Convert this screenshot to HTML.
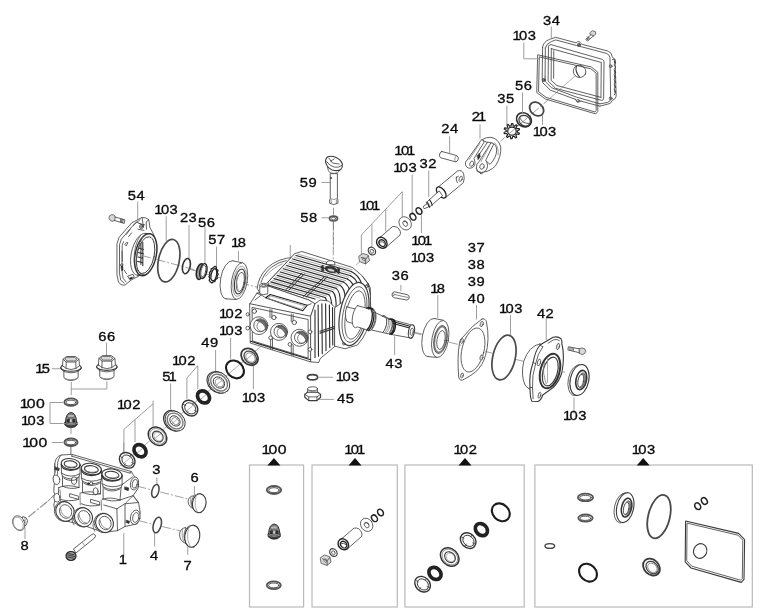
<!DOCTYPE html>
<html><head><meta charset="utf-8"><title>Pump exploded view</title>
<style>
html,body{margin:0;padding:0;background:#fff;}
svg{display:block;will-change:transform;transform:translateZ(0);}
body{-webkit-font-smoothing:antialiased;}
.lbl text{font-family:"Liberation Sans",sans-serif;font-size:13.4px;fill:#0a0a0a;stroke:#0a0a0a;stroke-width:0.32px;text-anchor:middle;letter-spacing:0.45px;}
.box rect{fill:none;stroke:#b9b9b9;stroke-width:1.2;}
.tri path{fill:#111;}
.ln{fill:none;stroke:#3a3a3a;stroke-width:0.8;stroke-linejoin:round;stroke-linecap:round;}
.lnw{fill:#fff;stroke:#3a3a3a;stroke-width:0.8;stroke-linejoin:round;stroke-linecap:round;}
.lt{fill:none;stroke:#777;stroke-width:0.6;stroke-linejoin:round;stroke-linecap:round;}
.ltw{fill:#fff;stroke:#777;stroke-width:0.6;stroke-linejoin:round;}
.ld{fill:none;stroke:#939393;stroke-width:0.9;}
.ax{fill:none;stroke:#777;stroke-width:0.7;stroke-dasharray:9 2 2 2;}
.blk{fill:none;stroke:#1a1a1a;stroke-width:2;}
.blk3{fill:none;stroke:#1a1a1a;stroke-width:3;}
.g1{fill:#d8d8d8;stroke:#3a3a3a;stroke-width:0.7;}
.g2{fill:#9a9a9a;stroke:#3a3a3a;stroke-width:0.7;}
.dk{fill:#333;stroke:#222;stroke-width:0.6;}
.ln,.lnw,.lt,.ltw,.ld,.ax,.blk,.blk3,.g1,.g2,.dk,.ln *,.lt *{vector-effect:non-scaling-stroke;}
</style></head>
<body>
<svg width="761" height="616" viewBox="0 0 761 616">
<rect width="761" height="616" fill="#fff"/>
<g class="box"><rect x="249.5" y="465" width="54.10000000000002" height="142"/><rect x="312" y="465" width="85.30000000000001" height="142"/><rect x="404.9" y="465" width="119.30000000000007" height="142"/><rect x="534.9" y="465" width="217.39999999999998" height="142"/></g><g class="tri"><path d="M267.4 465.4 L273.9 458 L280.4 465.4Z"/><path d="M348.5 465.4 L355 458 L361.5 465.4Z"/><path d="M458.5 465.4 L465 458 L471.5 465.4Z"/><path d="M636.7 465.4 L643.2 458 L649.7 465.4Z"/></g>
<!-- 10_cover34.svg -->
<g transform="translate(535 30) scale(0.13804)">
<!-- cover 34 : region 535,30 90x85 @7.244 -->
<g class="ln">
<!-- outer flange -->
<path d="M55 125 Q60 85 105 68 L150 53 L298 93 Q318 70 338 103 L530 153 Q558 165 560 195 L580 215 L588 480 Q585 500 560 510 L545 532 L470 552" />
<path d="M55 125 L52 360 Q50 385 75 400 L112 436 L292 502 M332 515 L470 552"/>
<path d="M73 340 L74 372 L120 418 L300 486 L470 535"/>
<!-- flange second line (thickness) -->
<path d="M75 130 Q82 98 118 84 L150 72 L300 112 L520 170 Q540 180 543 200 L548 500 Q545 520 525 525 L470 535"/>
<path d="M75 130 L73 340"/>
<!-- inner opening -->
<path d="M98 118 Q100 104 116 106 L488 213 Q500 218 500 232 L497 498 Q495 512 480 509 L150 423 L97 372 Z"/>
<path d="M118 135 L117 365 L158 402 L478 488"/>
<path d="M118 135 L480 235 L478 488"/>
<path d="M136 150 L135 350"/>
<!-- hole -->
<ellipse cx="323" cy="300" rx="46" ry="44" transform="rotate(25 323 300)"/>
<path d="M300 262 Q288 300 322 340" style="stroke-width:1.1"/>
<!-- lugs -->
<circle cx="318" cy="108" r="11"/><circle cx="318" cy="108" r="5"/>
<circle cx="64" cy="362" r="11"/><circle cx="64" cy="362" r="5"/>
<circle cx="311" cy="513" r="10"/>
<circle cx="548" cy="262" r="10"/>
<circle cx="548" cy="495" r="10"/>
<path d="M290 500 Q310 535 332 515"/>
<!-- fins right -->
<path d="M560 215 L575 210 L585 240 L572 250 L585 275 L572 285 L585 310 L572 320 L585 345 L572 355 L585 380 L572 390 L585 415 L572 425 L585 450 L575 470"/>
</g>
<g class="dk"><path d="M572 215 l10 20 l-8 8z M574 290 l10 18 l-8 8z M574 325 l10 18 l-8 8z M574 360 l10 18 l-8 8z M574 395 l10 18 l-8 8z M574 430 l10 18 l-8 8z"/></g>
<!-- bolt -->
<g class="ln">
<path d="M398 20 L415 5 L438 12 L440 30 L425 42 L405 35 Z" class="g1"/>
<path d="M405 35 L368 68 L380 80 L425 42" />
<path d="M372 62 l12 10 M378 56 l12 10 M384 50 l12 10"/>
</g>
<!-- gasket 103 -->
<g class="ln">
<path d="M22 180 L408 268 L455 306 L455 590 L440 608 L75 500 L15 455 Z"/>
<path d="M34 195 L404 281 L443 312 L443 583 L434 594 L80 488 L28 449 Z"/>
</g>
</g>

<!-- 12_conrod.svg -->
<g transform="translate(455 95) scale(0.13793)">
<!-- region 455,95 100x85 @7.25 -->
<path class="lt" d="M870 -138 L690 22"/><path class="ax" d="M690 22 L330 335"/>
<!-- ring 103 -->
<ellipse class="ln" style="stroke-width:1.8;stroke:#444" cx="592" cy="102" rx="56" ry="44" transform="rotate(42 592 102)"/>
<!-- ring 56 -->
<g class="ln">
<ellipse style="stroke-width:1.6;stroke:#2a2a2a" cx="500" cy="180" rx="57" ry="48" transform="rotate(35 500 180)"/>
<ellipse style="stroke-width:1.2" cx="505" cy="186" rx="44" ry="36" transform="rotate(35 505 186)"/>
<path d="M470 165 Q490 215 545 205"/>
</g>
<!-- star 35 -->
<g class="ln" style="stroke-width:1.2;stroke:#222">
<path d="M449 244 L466 243 L468 252 L453 259 L452 266 L452 269 L467 277 L463 286 L447 283 L442 288 L441 290 L447 306 L439 311 L428 299 L421 300 L418 301 L414 317 L404 317 L402 301 L396 298 L393 297 L380 308 L373 302 L381 288 L377 282 L375 280 L358 281 L356 272 L371 265 L372 258 L372 255 L357 247 L361 238 L377 241 L382 236 L383 234 L377 218 L385 213 L396 225 L403 224 L406 223 L410 207 L420 207 L422 223 L428 226 L431 227 L444 216 L451 222 L443 236 L447 242Z"/>
<ellipse cx="413" cy="262" rx="31" ry="29"/>
</g>
<!-- conrod 21 -->
</g>
<g transform="translate(425 100) scale(0.125)">
<g class="ln">
<!-- big end ring -->
<path class="lnw" d="M455 318 Q490 296 525 298 Q585 305 606 375 Q612 450 565 525 L540 548 L500 570 L440 582 Q410 578 410 545 L480 480 L545 350 Q520 335 500 338 Z"/>
<path d="M545 350 Q570 352 574 400 Q572 460 520 515 L480 480" />
<path d="M560 345 Q592 380 585 440" style="stroke:#888"/>
<!-- right arm -->
<path class="lnw" d="M530 343 Q548 338 548 355 L486 482 Q500 500 500 530 Q495 575 452 580 Q415 578 410 545 Q410 510 432 492 Z"/>
<!-- left arm -->
<path class="lnw" d="M455 318 Q475 320 472 338 L392 468 Q402 490 400 515 Q385 550 350 545 Q318 535 324 500 Z"/>
<path d="M440 345 L352 478 M515 370 L448 492" style="stroke:#888"/>
<ellipse cx="374" cy="510" rx="15" ry="22" transform="rotate(20 374 510)"/>
<ellipse cx="456" cy="532" rx="17" ry="23" transform="rotate(20 456 532)"/>
<path class="dk" d="M418 445 l18 -20 l6 28 l-16 22z"/>
<path d="M436 432 L500 338" />
<path d="M440 582 l6 10 l12 -4"/>
</g>
</g>

<!-- 14_piston.svg -->
<g transform="translate(350 160) scale(0.16234)">
<!-- region 350,160 120x100 @6.16 -->
<path class="lt" d="M62 625 L40 645" style="stroke-dasharray:none"/>
<!-- 101 bracket -->
<path class="ld" d="M322 195 L70 462 L70 585 M135 395 L135 535 M220 305 L220 440 M322 195 L322 350"/>
<path class="ld" d="M383 90 L383 335 M485 65 L485 228 M440 340 L440 450"/>
<!-- piston 32 -->
<g class="ln">
<path class="lnw" d="M542 168 L662 68 Q690 58 700 85 Q708 115 698 140 L588 232 Z"/>
<ellipse class="lnw" style="stroke-width:1.3;stroke:#222" cx="562" cy="200" rx="22" ry="40" transform="rotate(-38 562 200)"/>
<ellipse cx="682" cy="116" rx="9" ry="17" transform="rotate(20 682 116)"/>
<path d="M655 105 Q650 125 662 140 M668 100 l-14 8"/>
<path class="lnw" d="M548 192 L470 262 L490 290 L568 222 Z"/>
<path class="lnw" d="M478 268 L455 282 Q447 292 456 300 L482 290Z"/>
<path style="stroke-width:1.2;stroke:#333" d="M474 260 Q484 268 490 290 M490 246 Q500 256 506 278"/>
</g>
<!-- small rings -->
<g class="ln" style="stroke-width:1.5;stroke:#222">
<ellipse cx="425" cy="314" rx="16" ry="22" transform="rotate(-35 425 314)"/>
<ellipse cx="388" cy="350" rx="16" ry="22" transform="rotate(-35 388 350)"/>
</g>
<!-- washer -->
<g class="ln">
<ellipse class="lnw" cx="340" cy="390" rx="36" ry="43" transform="rotate(-35 340 390)"/>
<ellipse cx="340" cy="392" rx="13" ry="18" transform="rotate(-35 340 392)"/>
<path d="M330 378 Q345 372 352 385"/>
</g>
<!-- sleeve -->
<g class="ln">
<path class="lnw" d="M172 488 L262 410 Q295 405 310 440 Q312 455 308 462 L222 538 Z"/>
<ellipse class="lnw" style="stroke-width:1.4;stroke:#222" cx="196" cy="510" rx="30" ry="36" transform="rotate(-38 196 510)"/>
<ellipse style="stroke-width:1.3;stroke:#222" cx="198" cy="512" rx="18" ry="22" transform="rotate(-38 198 512)"/>
<path d="M185 505 Q200 498 212 512"/>
</g>
<!-- small washer -->
<g class="ln">
<ellipse class="lnw" style="stroke-width:1.1" cx="135" cy="561" rx="21" ry="26" transform="rotate(-38 135 561)"/>
<ellipse cx="135" cy="562" rx="10" ry="13" transform="rotate(-38 135 562)"/>
</g>
<!-- nut -->
<g class="ln" transform="translate(88 608) scale(1.35) translate(-86 -604)">
<path class="g1" d="M62 592 L80 580 L104 588 L110 612 L92 628 L66 618 Z"/>
<path d="M72 598 L92 606 L104 592 M92 606 L92 626"/>
<ellipse cx="84" cy="606" rx="6" ry="8" transform="rotate(-35 84 606)" style="stroke:#666"/>
</g>
</g>

<!-- 16_pin_leaders.svg -->
<g>
<!-- leaders top right (orig coords) -->
<path class="ld" d="M551.3 26.5 L551.3 38 M523.8 42.5 L523.8 58.8 L538.8 58.8 M522.5 92.5 L522.5 113 M506.9 105.6 L506.9 124.4 M542.5 115 L542.5 125 M480 124.4 L480 138.8 M449.6 136.3 L449.6 153"/>
<g transform="translate(425 100) scale(0.125)">
<g class="ln">
<path class="lnw" d="M135 412 L255 445 Q270 455 265 475 Q258 495 245 495 L125 462 Q112 452 117 432 Q123 412 135 412Z"/>
<path d="M255 445 Q240 450 238 470 Q238 488 245 495" style="stroke:#777"/>
</g>
</g>
</g>

<!-- 20_cover54.svg -->
<g transform="translate(95 200) scale(0.1462)">
<!-- region 95,200 100x90 @6.84 -->
<path class="ld" d="M292 10 L292 135 M487 112 L487 280 M643 170 L643 398"/>
<!-- bolt -->
<g class="ln">
<path class="g1" d="M100 108 Q112 96 128 102 L138 112 L136 140 Q122 150 106 142 L98 130 Z"/>
<path d="M136 116 L205 136 L200 160 L134 140 M185 131 l-4 22 M193 133 l-4 22 M177 129 l-4 22"/>
</g>
<!-- flange -->
<g class="ln">
<path class="lnw" d="M322 120 Q345 115 368 135 L376 190 L400 232 L415 300 L395 440 L300 520 L246 548 L205 582 Q175 585 160 560 L150 510 L150 300 L165 255 L250 158 Z"/>
<path d="M308 135 L262 172 L180 268 L168 305 L167 500 L176 548 L200 568"/>
<path d="M322 120 L330 175 M368 135 L350 150 L352 200"/>
<circle cx="318" cy="182" r="14"/><circle cx="318" cy="182" r="6"/>
<path d="M300 160 L340 170 M295 200 L335 208"/>
<path d="M205 300 Q215 285 225 292 L215 312 Z M175 440 Q185 430 192 440 L186 462 Z M225 520 L260 508 L268 528 L240 540Z"/>
<path d="M230 250 L250 225 M185 350 L186 420 M200 480 L215 505"/>
<path d="M195 285 L186 310 L185 490 L192 535 L212 560 M240 200 L215 235 M262 172 L285 150 L330 175" style="stroke:#444"/>
<path class="dk" d="M180 455 l8 -6 l4 30 l-8 4z M236 535 l16 -8 l4 8 l-16 8z"/>
<!-- boss -->
<ellipse class="lnw" cx="318" cy="372" rx="70" ry="146" transform="rotate(12 318 372)"/>
<path d="M345 228 L372 232 L318 516 L290 512Z" style="fill:#fff;stroke:none"/>
<path d="M345 228 L374 232 M290 514 L318 518"/>
<ellipse class="lnw" style="stroke-width:1.5;stroke:#333" cx="347" cy="374" rx="72" ry="146" transform="rotate(12 347 374)"/>
<ellipse style="stroke-width:1" cx="346" cy="377" rx="59" ry="128" transform="rotate(12 346 377)"/>
<path d="M268 425 Q262 310 312 240 M282 445 Q280 325 326 255" style="stroke:#555"/>
<path d="M302 330 l30 8 M298 360 l34 8 M294 390 l34 8 M292 420 l30 8 M314 300 l0 140 M327 290 l0 160" style="stroke-width:1.1;stroke:#333"/>
<path d="M287 470 Q302 515 337 510"/>
</g>
<path class="ax" d="M322 380 L700 482"/>
<!-- O-ring 103 -->
<ellipse class="ln" style="stroke-width:1.7;stroke:#4a4a4a" cx="505" cy="415" rx="71" ry="148" transform="rotate(12 505 415)"/>
<!-- ring 23 -->
<ellipse class="ln" style="stroke-width:1.6;stroke:#333" cx="625" cy="452" rx="26" ry="53" transform="rotate(12 625 452)"/>
</g>

<!-- 22_bearingL.svg -->
<g transform="translate(180 235) scale(0.1218)">
<!-- region 180,235 90x75 @8.21 -->
<path class="ld" d="M205 -70 L205 232 M300 95 L300 255 M480 130 L480 212"/>
<path class="ax" d="M70 280 L135 296 M215 320 L252 330 M305 345 L338 353 M495 395 L650 432"/>
<!-- nut 56 -->
<g class="ln">
<ellipse class="g2" style="stroke-width:1.5;stroke:#222" cx="166" cy="300" rx="30" ry="66" transform="rotate(12 166 300)"/>
<ellipse class="lnw" style="stroke-width:1.4;stroke:#222" cx="192" cy="296" rx="28" ry="62" transform="rotate(12 192 296)"/>
<ellipse cx="192" cy="296" rx="19" ry="48" transform="rotate(12 192 296)"/>
</g>
<!-- star 57 -->
<g class="ln" style="stroke-width:1.3;stroke:#222">
<path d="M285 258 L298 262 L300 282 L312 290 L306 308 L314 322 L304 338 L306 356 L292 364 L286 382 L272 384 L262 394 L250 386 L240 372 L246 356 L238 342 L246 326 L242 308 L254 296 L256 278 L270 272 Z"/>
<ellipse cx="278" cy="326" rx="22" ry="50" transform="rotate(12 278 326)"/>
</g>
<!-- bearing 18 -->
<g class="ln">
<ellipse class="lnw" cx="405" cy="368" rx="72" ry="158" transform="rotate(10 405 368)"/>
<path d="M432 212 L512 228 L462 530 L378 524 Z" style="fill:#fff;stroke:none"/>
<path d="M432 212 L512 228 M462 530 L378 524"/>
<ellipse class="lnw" cx="488" cy="378" rx="64" ry="152" transform="rotate(10 488 378)"/>
<ellipse style="stroke:#888" cx="489" cy="380" rx="52" ry="126" transform="rotate(10 489 380)"/>
<ellipse style="stroke-width:1.1" cx="491" cy="382" rx="42" ry="104" transform="rotate(10 491 382)"/>
<ellipse cx="495" cy="386" rx="31" ry="80" transform="rotate(10 495 386)"/>
<path d="M470 300 Q455 380 478 462" style="stroke:#888"/>
</g>
</g>

<!-- 30_housing.svg -->
<g transform="translate(245 245) scale(0.125)">
<!-- housing: U coords = 8*(orig-(245,245)) -->
<!-- leaders -->
<path class="ld" d="M362 0 L362 95 M706 -210 L706 -120" />
<path class="ax" d="M706 -110 L706 120"/>
<!-- left ear (bearing boss) -->
<g class="ln">
<path class="lnw" d="M98 345 Q105 260 175 185 Q260 105 395 98 L400 70 L180 300 L120 380 Z"/>
<path d="M128 300 Q150 225 215 175 Q270 135 330 125"/>
<path d="M165 250 Q215 185 300 150" style="stroke:#888"/>
</g>
<!-- top face -->
<g class="ln">
<path class="lnw" d="M400 68 L455 52 L860 180 Q945 240 985 310 L1003 400 L1005 500 L700 560 L510 440 L190 330 L185 300 Z"/>
</g>
<!-- fins on top: dark parallel lines -->
<g class="ln" style="stroke:#2a2a2a;stroke-width:1.3">
<path d="M408 84 L850 212"/>
<path d="M382 112 L845 246"/>
<path d="M357 138 L820 272"/>
<path d="M332 164 L790 297"/>
<path d="M307 190 L760 322"/>
<path d="M282 216 L730 347"/>
<path d="M257 243 L700 372"/>
<path d="M232 269 L670 397"/>
<path d="M207 295 L640 420"/>
<path d="M190 322 L560 432"/>
</g>
<g class="ln" style="stroke:#888;stroke-width:0.7">
<path d="M420 72 L856 198 M394 98 L848 230 M369 125 L832 259 M344 151 L805 285 M319 177 L775 310 M294 203 L745 335 M269 229 L715 360 M244 256 L685 385 M219 282 L655 409 M198 308 L600 425"/>
</g>
<!-- cross ribs -->
<g class="ln" style="stroke:#2a2a2a;stroke-width:1">
<path d="M455 225 L330 355 M475 231 L350 361"/>
<path d="M640 250 L470 410 M658 256 L490 416"/>
</g>
<!-- filler cap -->
<g class="ln">
<ellipse class="dk" cx="688" cy="196" rx="50" ry="24" transform="rotate(15 688 196)"/>
<ellipse class="g1" cx="690" cy="202" rx="32" ry="12" transform="rotate(15 690 202)"/>
<path d="M655 135 Q690 112 718 138 L718 160 L655 155Z" class="lnw"/>
<path class="dk" d="M610 170 l15 -10 l5 50 l-15 -5z M740 185 l18 5 l-5 40 l-15 -8z"/>
</g>
<!-- right-side bent fins -->
<g class="ln" style="stroke:#2a2a2a;stroke-width:1.1">
<path d="M850 212 Q905 240 930 300"/>
<path d="M845 246 Q890 270 905 320"/>
<path d="M820 272 Q865 300 872 345"/>
<path d="M790 297 Q835 325 838 380"/>
<path d="M760 322 Q800 350 800 420"/>
<path d="M730 347 Q765 375 762 470"/>
<path d="M700 372 Q735 400 728 520"/>
<path d="M670 397 Q700 425 700 600"/>
<path d="M640 420 Q668 448 668 640"/>
</g>
<!-- front block top / nameplate -->
<g class="ln">
<path class="lnw" d="M40 470 L95 385 L120 380 L190 330 L510 440 L560 470 L525 570 Z"/>
<path class="lnw" style="stroke-width:1.2;stroke:#222" d="M165 422 L202 396 L497 482 L462 526 Z"/>
<path d="M180 424 L206 408 L478 486 L455 512 Z" style="stroke:#888"/>
<path d="M95 385 L130 400 L80 440 M130 400 L165 422 M497 482 L530 470"/>
</g>
<!-- boss lug front-left -->
<g class="ln">
<path class="lnw" d="M118 322 L118 390 Q150 405 182 390 L182 322"/>
<ellipse class="lnw" cx="150" cy="322" rx="32" ry="16"/>
<ellipse cx="150" cy="322" rx="18" ry="8"/>
</g>
<!-- right side lower with vertical fins -->
<g class="ln">
<path class="lnw" d="M525 570 L560 470 L600 440 L668 448 L720 500 L720 810 L600 910 L590 940 L525 935 Z"/>
<g style="stroke:#2a2a2a;stroke-width:1.1">
<path d="M560 520 L560 900 M585 480 L588 890 M615 470 L618 870 M645 470 L648 845 M675 480 L678 820 M700 500 L702 800"/>
</g>
<path d="M600 690 L720 650 M600 705 L720 665" style="stroke-width:1.1"/>
</g>
<!-- bearing seat ring and right wall -->
<g class="ln">
<path class="lnw" d="M720 500 L985 310 L1003 400 L1005 560 Q990 700 900 800 L800 830 L720 810 Z"/>
<ellipse class="lnw" style="stroke-width:1.2" cx="872" cy="552" rx="112" ry="256" transform="rotate(11 872 552)"/>
<ellipse cx="876" cy="556" rx="92" ry="226" transform="rotate(11 876 556)"/>
<ellipse cx="880" cy="560" rx="74" ry="196" transform="rotate(11 880 560)"/>
<path d="M985 310 Q1010 330 1003 400 M940 250 L985 310"/>
<circle cx="975" cy="330" r="10"/><circle cx="790" cy="790" r="10"/>
</g>
<!-- shaft -->
<g class="ln">
<path class="lnw" d="M815 495 L895 515 L895 640 L815 612 Q790 550 815 495Z"/>
<path class="lnw" d="M900 485 L1000 513 A36 86 12 0 1 1000 687 L900 655 A36 86 12 0 1 900 485Z"/>
<path d="M975 506 A36 86 12 0 1 975 680 M988 510 A36 86 12 0 1 988 684" style="stroke-width:1.3;stroke:#222"/>
<path class="lnw" d="M1010 527 L1100 568 A30 66 12 0 1 1100 700 L1010 680 A32 76 12 0 0 1010 527Z"/>
<path class="lnw" d="M1100 570 L1145 590 A28 60 12 0 1 1145 710 L1100 700 A30 66 12 0 0 1100 570Z"/>
<path d="M1115 577 A30 64 12 0 1 1115 703 M1128 583 A30 64 12 0 1 1128 706" style="stroke:#777"/>
<path class="lnw" d="M1150 592 L1335 640 L1335 745 L1150 712 A28 60 12 0 0 1150 592Z"/>
<path d="M1160 594 A28 60 12 0 1 1160 714 M1172 598 A28 60 12 0 1 1172 716" style="stroke-width:1.3;stroke:#222"/>
<path d="M1180 612 L1320 650 M1185 628 L1318 664" style="stroke-width:1.2;stroke:#222"/>
<ellipse class="lnw" style="stroke-width:1.1" cx="1332" cy="692" rx="24" ry="54" transform="rotate(10 1332 692)"/>
<ellipse cx="1334" cy="694" rx="12" ry="30" transform="rotate(10 1334 694)"/>
</g>
<path class="ax" d="M1360 698 L1420 714"/>
<!-- front plate -->
<g class="ln">
<path class="lnw" d="M40 470 L525 570 L525 935 L45 785 Z"/>
<path d="M60 500 L505 596 L505 905 L62 768 Z" />
<path d="M45 770 L525 918" style="stroke-width:1.2;stroke:#222"/>
<!-- ribs -->
<path d="M200 515 L200 580 M215 518 L215 585 M370 553 L370 615 M385 556 L385 620 M205 745 L205 830 M220 750 L220 835 M370 795 L370 880 M385 800 L385 885"/>
<!-- bosses -->
<circle class="lnw" cx="75" cy="530" r="17"/><circle class="lnw" cx="22" cy="665" r="15"/><circle class="lnw" cx="232" cy="580" r="17"/><circle class="lnw" cx="395" cy="620" r="17"/>
<circle class="lnw" cx="205" cy="742" r="15"/><circle class="lnw" cx="360" cy="795" r="15"/><circle class="lnw" cx="520" cy="695" r="15"/><circle class="lnw" cx="520" cy="835" r="15"/><circle class="lnw" cx="22" cy="555" r="13"/>
<!-- ports -->
<circle class="lnw" cx="112" cy="645" r="71"/>
<ellipse cx="122" cy="642" rx="52" ry="52"/>
<path d="M92 604 Q150 578 176 640 Q178 668 168 684 Q160 620 92 604Z" style="fill:#777;stroke:#333;stroke-width:0.6"/><ellipse cx="132" cy="650" rx="36" ry="40" style="stroke:#666"/>
<circle class="lnw" cx="272" cy="695" r="68"/>
<ellipse cx="282" cy="692" rx="50" ry="50"/>
<path d="M252 654 Q310 628 336 690 Q338 718 328 734 Q320 670 252 654Z" style="fill:#777;stroke:#333;stroke-width:0.6"/><ellipse cx="292" cy="700" rx="35" ry="39" style="stroke:#666"/>
<circle class="lnw" cx="436" cy="742" r="68"/>
<ellipse cx="446" cy="739" rx="50" ry="50"/>
<path d="M416 701 Q474 675 500 737 Q502 765 492 781 Q484 717 416 701Z" style="fill:#777;stroke:#333;stroke-width:0.6"/><ellipse cx="456" cy="747" rx="35" ry="39" style="stroke:#666"/>
</g>
</g>

<!-- 32_cap59.svg -->
<g transform="translate(300 150) scale(0.12987)">
<!-- origin 300,150 @7.7 -->
<path class="ld" d="M165 250 L232 250 M165 522 L225 522 M258 445 L258 505"/>
<path class="ax" d="M258 552 L258 760"/>
<g class="ln">
<path class="lnw" d="M233 185 L233 375 L228 385 L228 410 Q258 430 292 410 L292 385 L288 375 L288 185 Z"/>
<path d="M233 375 Q258 388 288 375 M240 385 L240 412 M280 385 L280 412" style="stroke:#777"/>
<path class="lnw" d="M212 135 Q216 165 233 176 Q260 186 288 176 Q305 165 310 145 Z"/>
<path class="lnw" style="stroke-width:1.1" d="M198 98 Q192 66 214 52 Q242 42 278 58 Q318 78 326 108 Q330 134 314 150 Q290 166 248 154 Q208 138 198 98Z"/>
<path d="M205 90 Q225 120 265 132 Q300 138 320 120 M222 62 L250 100 L300 108 M235 85 L262 70" />
<circle class="dk" cx="238" cy="215" r="4"/>
</g>
<g class="ln">
<ellipse class="lnw" style="stroke-width:1.6;stroke:#555" cx="258" cy="528" rx="31" ry="19"/>
<ellipse cx="258" cy="529" rx="18" ry="9" style="stroke:#555"/>
</g>
</g>

<!-- 34_plug45.svg -->
<g transform="translate(290 365) scale(0.125)">
<path class="ld" d="M230 98 L345 98 M215 275 L350 275"/>
<ellipse class="ln" style="stroke-width:1.7;stroke:#444" cx="180" cy="98" rx="41" ry="21"/>
<g class="ln">
<path class="lnw" d="M140 190 L140 230 L220 230 L220 190"/>
<ellipse class="lnw" cx="180" cy="190" rx="40" ry="16"/>
<path d="M145 205 Q180 222 215 205" style="stroke:#888"/>
<path class="lnw" style="stroke-width:1.1" d="M118 235 L140 218 L222 218 L245 235 L245 258 L215 285 L150 285 L118 258 Z"/>
<path d="M118 235 L150 255 L215 255 L245 235 M150 255 L150 285 M215 255 L215 285"/>
</g>
</g>

<!-- 36_key.svg -->
<g transform="translate(340 275) scale(0.125)">
<!-- origin 340,275 @8 -->
<path class="ld" d="M487 80 L487 130 M437 490 L437 640"/>
<g class="ln">
<path class="lnw" d="M430 135 Q415 140 416 160 Q418 178 435 182 L535 200 Q552 198 554 180 Q554 162 540 158 Z"/>
<path d="M425 150 Q440 160 545 180 M420 168 L436 160" style="stroke:#666"/>
</g>
</g>

<!-- 40_right.svg -->
<g transform="translate(420 290) scale(0.25)">
<!-- region 420,290 @4x -->
<path class="ld" d="M71 20 L71 112 M226 60 L226 118 M362 100 L362 182 M505 115 L505 200 M616 430 L616 495"/>
<path class="ax" d="M-30 170 L20 183 M115 208 L165 221 M262 246 L290 253 M380 277 L425 288 M530 316 L582 330"/>
<!-- bearing 18 R -->
<g class="ln">
<ellipse class="lnw" cx="44" cy="190" rx="35" ry="77" transform="rotate(10 44 190)"/>
<path d="M57 114 L94 121 L68 270 L30 266 Z" style="fill:#fff;stroke:none"/>
<path d="M57 114 L94 121 M68 270 L30 266"/>
<ellipse class="lnw" cx="81" cy="196" rx="33" ry="75" transform="rotate(10 81 196)"/>
<ellipse style="stroke:#888;stroke-width:1.6" cx="82" cy="198" rx="23" ry="52" transform="rotate(10 82 198)"/>
<ellipse cx="82" cy="198" rx="26" ry="57" transform="rotate(10 82 198)"/>
<ellipse cx="84" cy="200" rx="16" ry="38" transform="rotate(10 84 200)"/>
</g>
<!-- gasket 40 -->
<g class="ln">
<path d="M248 116 Q262 112 266 128 Q280 200 262 262 Q252 300 222 328 Q200 345 178 356 Q160 368 155 350 Q148 270 158 210 Q160 195 172 188 Q210 140 248 116 Z"/>
<ellipse cx="212" cy="240" rx="44" ry="90" transform="rotate(14 212 240)"/>
<ellipse cx="247" cy="136" rx="6" ry="11" transform="rotate(20 247 136)" class="g1"/>
<ellipse cx="168" cy="204" rx="5" ry="10" transform="rotate(14 168 204)"/>
<ellipse cx="246" cy="270" rx="6" ry="11" transform="rotate(14 246 270)" class="g1"/>
<ellipse cx="168" cy="342" rx="5" ry="10" transform="rotate(14 168 342)"/>
</g>
<!-- O-ring 103 -->
<ellipse class="ln" style="stroke-width:1.7;stroke:#4a4a4a" cx="336" cy="270" rx="45" ry="91" transform="rotate(13 336 270)"/>
</g>
<g transform="translate(510 325) scale(0.125)">
<!-- cover 42 region 510,325 @8x -->
<g class="ln">
<!-- spigot behind -->
<path class="lnw" d="M240 150 Q150 170 110 290 Q85 400 120 480 Q140 510 175 520 L240 400 Z"/>
<!-- flange -->
<path class="lnw" style="stroke-width:1.1" d="M290 130 L345 98 Q385 88 408 110 Q418 125 415 150 Q440 250 415 380 Q395 450 345 500 L262 560 Q250 600 225 612 L175 610 Q160 580 160 500 Q150 400 185 300 Q200 210 240 160 Z"/>
<path d="M305 145 L350 118 Q380 110 395 125 M262 175 Q220 230 205 310 Q175 400 180 500 L185 590"/>
<path d="M240 160 L262 175 M185 300 L205 310 M160 500 L180 500"/>
<!-- center opening -->
<ellipse style="stroke-width:2;stroke:#333" cx="320" cy="368" rx="76" ry="142" transform="rotate(15 320 368)"/>
<ellipse style="stroke-width:1.2" cx="322" cy="372" rx="58" ry="118" transform="rotate(15 322 372)"/>
<path d="M275 300 Q255 380 290 470" style="stroke:#777"/>
<path d="M300 270 L300 460" style="stroke:#999"/>
<ellipse class="g1" cx="384" cy="172" rx="12" ry="26" transform="rotate(15 384 172)"/>
<ellipse class="lnw" cx="232" cy="300" rx="12" ry="28" transform="rotate(15 232 300)"/>
<ellipse class="lnw" cx="236" cy="562" rx="10" ry="24" transform="rotate(15 236 562)"/>
</g>
<!-- bolt -->
<g class="ln">
<path d="M470 175 L560 192 L556 222 L466 200 Z" class="lnw"/>
<path d="M480 177 l-4 25 M490 179 l-4 25 M500 181 l-4 25 M510 183 l-4 25" style="stroke:#666"/>
<path class="g1" d="M556 188 Q575 178 598 190 L606 210 Q600 232 580 238 L556 228 Z"/>
</g>
<!-- seal 103 -->
<g class="ln">
<ellipse class="lnw" cx="540" cy="442" rx="74" ry="126" transform="rotate(12 540 442)"/>
<ellipse class="lnw" style="stroke-width:1.1" cx="556" cy="440" rx="74" ry="126" transform="rotate(12 556 440)"/>
<ellipse style="stroke-width:1.6;stroke:#333" cx="570" cy="440" rx="42" ry="78" transform="rotate(12 570 440)"/>
<ellipse class="g2" cx="574" cy="442" rx="28" ry="60" transform="rotate(12 574 442)"/>
<ellipse class="lnw" cx="566" cy="446" rx="22" ry="52" transform="rotate(12 566 446)"/>
</g>
</g>

<!-- 60_manifold.svg -->
<g transform="translate(45 450) scale(0.125)">
<!-- manifold: F coords 8x origin 45,450 -->
<path class="ld" d="M205 -40 L205 40 M630 -60 L630 30 M630 665 L630 860"/>
<path class="ax" d="M70 360 L20 415 M20 415 L-140 545"/>
<g class="ln">
<!-- body silhouette -->
<path class="lnw" d="M78 110 Q82 55 130 40 L215 35 L690 172 L706 200 L748 255 L748 300 L705 365 L748 420 L762 500 L740 590 L640 612 L580 645 L470 660 L300 600 L160 565 L90 520 L70 440 L85 380 L70 330 L75 260 L66 225 L80 180 Z"/>
<!-- back top edge second line -->
<path d="M215 50 L680 185 M130 40 Q100 70 100 120"/>
<!-- top port 1 -->
<path class="lnw" d="M130 110 L132 185 Q205 230 280 190 L280 115"/>
<ellipse class="lnw" style="stroke-width:1.1" cx="205" cy="112" rx="76" ry="43" transform="rotate(8 205 112)"/>
<ellipse style="stroke-width:1.1" cx="205" cy="114" rx="52" ry="27" transform="rotate(8 205 114)"/>
<path d="M160 125 Q205 150 252 128" style="stroke:#777"/>
<!-- top port 2 -->
<path class="lnw" d="M290 150 L292 225 Q370 270 452 232 L452 158"/>
<ellipse class="lnw" style="stroke-width:1.1" cx="371" cy="152" rx="81" ry="45" transform="rotate(8 371 152)"/>
<ellipse style="stroke-width:1.1" cx="371" cy="154" rx="56" ry="28" transform="rotate(8 371 154)"/>
<path d="M322 165 Q371 192 420 168" style="stroke:#777"/>
<!-- top port 3 -->
<path class="lnw" d="M455 195 L457 270 Q535 315 617 277 L617 203"/>
<ellipse class="lnw" style="stroke-width:1.1" cx="536" cy="197" rx="81" ry="45" transform="rotate(8 536 197)"/>
<ellipse style="stroke-width:1.1" cx="536" cy="199" rx="56" ry="28" transform="rotate(8 536 199)"/>
<path d="M487 210 Q536 237 585 213" style="stroke:#777"/>
<!-- collars under top ports -->
<path d="M132 185 L140 210 Q205 250 272 215 L280 190 M292 225 L300 250 Q370 290 444 255 L452 232 M457 270 L465 295 Q535 335 609 300 L617 277"/>
<!-- mid vertical cylinders -->
<path d="M140 210 L140 290 M272 215 L272 300 M300 250 L300 340 M444 255 L444 350 M465 295 L465 390 M609 300 L600 400"/>
<path d="M110 300 Q190 270 270 300 M110 300 L105 390 M280 345 Q360 320 440 350 M460 395 Q520 370 600 400"/>
<path d="M105 390 Q190 420 270 395 M290 430 Q360 460 440 440"/>
<!-- left side bosses -->
<ellipse class="lnw" cx="92" cy="238" rx="26" ry="38" transform="rotate(-10 92 238)"/>
<ellipse class="lnw" cx="95" cy="382" rx="24" ry="34" transform="rotate(-10 95 382)"/>
<path class="dk" d="M80 135 l35 12 l-5 18 l-32 -10z M640 295 l30 8 l-4 22 l-28 -10z M652 562 l24 8 l-4 18 l-22 -8z"/>
<!-- small circles -->
<circle class="lnw" cx="370" cy="268" r="13"/><circle class="dk" cx="347" cy="270" r="8"/>
<ellipse class="lnw" cx="232" cy="245" rx="22" ry="30"/>
<ellipse class="lnw" cx="405" cy="330" rx="20" ry="28"/>
<path class="lnw" d="M200 350 L270 370 L268 395 L198 375Z M368 395 L438 415 L436 440 L366 420Z"/>
<!-- right face -->
<path d="M617 277 L700 215 M600 400 L705 365 M640 612 L640 430 L748 420 M580 645 L575 470 L640 430 M575 470 L470 440"/>
<ellipse class="lnw" cx="716" cy="268" rx="32" ry="52" transform="rotate(12 716 268)"/>
<ellipse cx="718" cy="270" rx="20" ry="36" transform="rotate(12 718 270)"/>
<ellipse class="lnw" cx="722" cy="538" rx="38" ry="58" transform="rotate(12 722 538)"/>
<ellipse cx="726" cy="540" rx="24" ry="40" transform="rotate(12 726 540)"/>
<!-- bottom ports -->
<ellipse class="lnw" cx="150" cy="492" rx="74" ry="80" transform="rotate(-25 150 492)"/>
<ellipse class="lnw" style="stroke-width:1.1" cx="160" cy="492" rx="72" ry="80" transform="rotate(-25 160 492)"/>
<ellipse cx="165" cy="492" rx="48" ry="56" transform="rotate(-25 165 492)"/>
<path d="M125 470 Q130 530 185 540" style="stroke:#777"/>
<ellipse class="lnw" cx="298" cy="538" rx="72" ry="78" transform="rotate(-25 298 538)"/>
<ellipse class="lnw" style="stroke-width:1.1" cx="308" cy="538" rx="70" ry="78" transform="rotate(-25 308 538)"/>
<ellipse cx="313" cy="538" rx="47" ry="55" transform="rotate(-25 313 538)"/>
<path d="M273 516 Q278 576 333 586" style="stroke:#777"/>
<ellipse class="lnw" cx="466" cy="584" rx="72" ry="78" transform="rotate(-25 466 584)"/>
<ellipse class="lnw" style="stroke-width:1.1" cx="476" cy="584" rx="70" ry="78" transform="rotate(-25 476 584)"/>
<ellipse cx="481" cy="584" rx="47" ry="55" transform="rotate(-25 481 584)"/>
<path d="M441 562 Q446 622 501 632" style="stroke:#777"/>
<!-- extra detail -->
<g class="ln" style="stroke:#3a3a3a">
<path d="M150 225 Q205 262 262 230 M310 265 Q370 302 434 268 M475 310 Q535 347 599 312"/>
<path d="M140 290 Q205 320 272 300 M300 340 Q370 370 444 350 M465 390 Q530 420 600 400" />
<path d="M120 320 Q130 400 118 440 M280 350 L282 440 M450 400 L452 480" style="stroke:#666"/>
<path d="M78 110 L78 180 M100 120 L100 200" style="stroke:#555"/>
<path d="M215 35 L215 50 M690 172 L680 185"/>
<path d="M232 600 Q205 560 225 520 M398 650 Q372 610 392 565" style="stroke:#555"/>
<path d="M640 430 L705 365 M748 420 L705 365" style="stroke:#555"/>
</g>
<g class="ln" style="stroke-width:1.3;stroke:#333">
<path d="M130 118 Q135 160 205 162 Q275 160 281 120"/>
<path d="M291 158 Q296 202 371 204 Q446 202 452 162"/>
<path d="M456 203 Q461 247 536 249 Q611 247 617 207"/>
</g>
</g>
<!-- long bolt -->
<g class="ln">
<path class="lnw" d="M230 790 L375 675 Q392 665 402 680 Q408 695 395 705 L250 822 Z"/>
<path d="M300 740 L318 765" style="stroke:#888"/>
<ellipse class="g2" style="stroke-width:1.2;stroke:#222" cx="208" cy="848" rx="40" ry="36"/>
<path d="M180 840 L236 852 M182 856 L230 866 M190 828 L232 838" style="stroke:#222"/>
</g>
</g>

<!-- 65_seals.svg -->
<g>
<!-- seal stack along piston axis, orig coords -->
<path class="ld" d="M215.6 350 L215.6 371 M230.6 338 L230.6 359.5 M253.4 365 L253.4 389 M197.8 365.6 L186.9 378 L186.9 399 M197.8 365.6 L197.8 389 M170.6 383.5 L170.6 409.5 M153.1 400.6 L153.1 426 M153.1 403.8 L123.9 429.4 L123.9 453 M135 419.6 L135 442"/>
<path class="lt" d="M262 345.5 L120 466"/>
<g class="ln"><ellipse cx="249.6" cy="356.8" rx="9.4" ry="7.4" transform="rotate(45 249.6 356.8)" class="lnw" style="stroke-width:1.8;stroke:#3a3a3a"/><ellipse cx="250.2" cy="357.3" rx="7.0" ry="5.3" transform="rotate(45 250.2 357.3)" style="stroke-width:1.3;stroke:#444"/><ellipse cx="250.5" cy="357.6" rx="5.4" ry="4.0" transform="rotate(45 250.5 357.6)" style="stroke-width:0.7;stroke:#666"/><path class="lt" d="M254.9 352.2 L244.3 361.4"/></g>
<ellipse cx="235.0" cy="369.4" rx="9.8" ry="8.0" transform="rotate(45 235.0 369.4)" class="ln" style="stroke-width:2.1;stroke:#1c1c1c"/>
<g class="ln"><ellipse cx="217.9" cy="382.4" rx="12.0" ry="9.6" transform="rotate(45 217.9 382.4)" class="lnw" style="stroke-width:1.2"/><ellipse cx="219.2" cy="382.6" rx="11.8" ry="9.4" transform="rotate(45 219.2 382.6)" class="lnw" style="stroke-width:1"/><ellipse cx="219.1" cy="382.6" rx="9.4" ry="7.3999999999999995" transform="rotate(45 219.1 382.6)" style="stroke-width:1.4;stroke:#777"/><ellipse cx="219.0" cy="382.6" rx="6.4" ry="5.0" transform="rotate(45 219.0 382.6)" style="stroke-width:1"/><ellipse cx="219.4" cy="382.8" rx="4.6" ry="3.5999999999999996" transform="rotate(45 219.4 382.8)" style="stroke:#666;stroke-width:0.7"/><path class="lt" d="M221.9 380.3 L216.5 384.9"/></g>
<g class="ln"><ellipse cx="203.5" cy="396.9" rx="6.7" ry="5.4" transform="rotate(45 203.5 396.9)" class="lnw" style="stroke-width:3.7;stroke:#222"/><path class="lt" d="M206.1 394.7 L200.9 399.1"/></g>
<g class="ln"><ellipse cx="190.0" cy="408.1" rx="8.6" ry="7.0" transform="rotate(45 190.0 408.1)" class="lnw" style="stroke-width:1.4;stroke:#333"/><ellipse cx="190.3" cy="408.4" rx="6.3" ry="4.9" transform="rotate(45 190.3 408.4)" style="stroke-width:1"/><path d="M183.4 404.5 l2.3 1.1 M186.8 413.4 l1.3 -1.9 M193.8 402.5 l-1.3 1.9 M196.8 411.5 l-2.3 -1.1"/><path class="lt" d="M194.2 404.5 L185.8 411.7"/></g>
<g class="ln"><ellipse cx="173.9" cy="420.8" rx="11.399999999999999" ry="9.12" transform="rotate(45 173.9 420.8)" class="lnw" style="stroke-width:1.2"/><ellipse cx="175.2" cy="421.0" rx="11.2" ry="8.92" transform="rotate(45 175.2 421.0)" class="lnw" style="stroke-width:1"/><ellipse cx="175.1" cy="421.0" rx="8.799999999999999" ry="6.919999999999999" transform="rotate(45 175.1 421.0)" style="stroke-width:1.4;stroke:#777"/><ellipse cx="175.0" cy="421.0" rx="5.799999999999999" ry="4.52" transform="rotate(45 175.0 421.0)" style="stroke-width:1"/><ellipse cx="175.4" cy="421.2" rx="3.9999999999999982" ry="3.119999999999999" transform="rotate(45 175.4 421.2)" style="stroke:#666;stroke-width:0.7"/><path class="lt" d="M177.9 418.7 L172.5 423.3"/></g>
<g class="ln"><ellipse cx="157.5" cy="436.3" rx="10.3" ry="8.2" transform="rotate(45 157.5 436.3)" class="lnw" style="stroke-width:1.4;stroke:#333"/><ellipse cx="157.7" cy="436.4" rx="8.8" ry="6.9" transform="rotate(45 157.7 436.4)" style="stroke:#777"/><ellipse cx="157.8" cy="436.5" rx="6" ry="4.7" transform="rotate(45 157.8 436.5)" style="stroke-width:1.1"/><ellipse cx="158.3" cy="436.7" rx="4.8" ry="3.8" transform="rotate(45 158.3 436.7)" style="stroke:#888;stroke-width:0.6"/><path class="lt" d="M161.0 433.3 L154.0 439.3"/></g>
<g class="ln"><ellipse cx="140.0" cy="450.7" rx="6.7" ry="5.4" transform="rotate(45 140.0 450.7)" class="lnw" style="stroke-width:3.7;stroke:#222"/><path class="lt" d="M142.6 448.5 L137.4 452.9"/></g>
<g class="ln"><ellipse cx="127.2" cy="460.3" rx="8.6" ry="7.0" transform="rotate(45 127.2 460.3)" class="lnw" style="stroke-width:1.4;stroke:#333"/><ellipse cx="127.5" cy="460.6" rx="6.3" ry="4.9" transform="rotate(45 127.5 460.6)" style="stroke-width:1"/><path d="M120.6 456.7 l2.3 1.1 M124.0 465.6 l1.3 -1.9 M131.0 454.7 l-1.3 1.9 M134.0 463.7 l-2.3 -1.1"/><path class="lt" d="M131.4 456.7 L123.0 463.9"/></g>
</g>

<!-- 70_plugs.svg -->
<g transform="translate(25 345) scale(0.125)">
<!-- plugs 15/66, origin 25,345 @8x -->
<path class="ld" d="M215 190 L292 190 M652 -20 L652 90 M370 296 L370 400 M370 352 L655 352 L655 290"/>
<g transform="translate(368 172)"><g class="ln">
<path class="lnw" d="M-57 25 L-57 85 Q-50 108 0 112 Q50 108 57 85 L57 25"/>
<path d="M-50 95 Q0 118 50 95" style="stroke:#777"/>
<ellipse class="lnw" style="stroke-width:1.1" cx="0" cy="8" rx="82" ry="30"/>
<path d="M-82 8 L-82 18 Q-60 48 0 50 Q60 48 82 18 L82 8" />
<path class="lnw" d="M-68 -5 L-64 -58 L-36 -80 L36 -80 L64 -58 L68 -5 Q40 22 0 24 Q-40 22 -68 -5Z"/>
<path d="M-64 -58 L-38 -36 L38 -36 L64 -58 M-38 -36 L-40 18 M38 -36 L40 18"/>
<path class="g1" d="M-30 -74 L30 -74 L48 -58 L30 -44 L-30 -44 L-48 -58Z"/>
</g></g>
<g transform="translate(655 165)"><g class="ln">
<path class="lnw" d="M-57 25 L-57 85 Q-50 108 0 112 Q50 108 57 85 L57 25"/>
<path d="M-50 95 Q0 118 50 95" style="stroke:#777"/>
<ellipse class="lnw" style="stroke-width:1.1" cx="0" cy="8" rx="82" ry="30"/>
<path d="M-82 8 L-82 18 Q-60 48 0 50 Q60 48 82 18 L82 8" />
<path class="lnw" d="M-68 -5 L-64 -58 L-36 -80 L36 -80 L64 -58 L68 -5 Q40 22 0 24 Q-40 22 -68 -5Z"/>
<path d="M-64 -58 L-38 -36 L38 -36 L64 -58 M-38 -36 L-40 18 M38 -36 L40 18"/>
<path class="g1" d="M-30 -74 L30 -74 L48 -58 L30 -44 L-30 -44 L-48 -58Z"/>
</g></g>
<path class="ld" d="M305 460 L200 460 L200 628 L310 628 M215 780 L305 780 M368 665 L368 712 M368 815 L368 880"/>
<g class="ln">
<ellipse class="lnw" style="stroke-width:1.8;stroke:#555" cx="368" cy="457" rx="53" ry="30"/>
<ellipse style="stroke-width:0.9;stroke:#444" cx="368" cy="459" rx="38" ry="18"/>
<ellipse class="lnw" style="stroke-width:1.8;stroke:#555" cx="368" cy="778" rx="53" ry="30"/>
<ellipse style="stroke-width:0.9;stroke:#444" cx="368" cy="780" rx="38" ry="18"/>
<g transform="translate(368 602)"><path d="M-50 18 L-50 38 Q-30 60 0 60 Q30 60 50 38 L50 18 Z" style="fill:#3a3a3a;stroke:#222;stroke-width:0.7"/><path d="M-46 20 Q-44 -20 -30 -45 Q-15 -62 0 -62 Q16 -62 30 -45 Q44 -20 46 20 Q30 36 0 36 Q-30 36 -46 20Z" style="fill:#8a8a8a;stroke:#222;stroke-width:0.9"/><path d="M-30 -42 Q0 -56 30 -42 L20 -20 Q0 -28 -20 -20Z" style="fill:#b5b5b5;stroke:#444;stroke-width:0.5"/><path d="M-34 -8 L-12 -14 L-12 20 L-36 18Z M12 -14 L34 -8 L36 18 L12 20Z" style="fill:#2e2e2e;stroke:none"/><path d="M-8 -12 h16 v30 h-16z" style="fill:#ddd;stroke:#444;stroke-width:0.5"/><path d="M-50 24 Q0 52 50 24" style="stroke:#ccc;stroke-width:0.6;fill:none"/></g>
</g>
</g>

<!-- 72_smallplugs.svg -->
<g transform="translate(125 475) scale(0.125)">
<!-- origin 125,475 @8x -->
<path class="ld" d="M255 20 L255 72 M555 90 L555 160 M237 465 L237 572 M502 575 L502 640"/>
<path class="ax" d="M100 90 L205 117 M282 136 L500 191 M110 365 L222 394 M296 412 L440 446"/>
<ellipse class="ln" style="stroke-width:1.5;stroke:#444" cx="243" cy="128" rx="27" ry="54" transform="rotate(15 243 128)"/>
<ellipse class="ln" style="stroke-width:1.5;stroke:#444" cx="258" cy="400" rx="31" ry="64" transform="rotate(15 258 400)"/>
<!-- plug 6 -->
<g class="ln">
<path class="lnw" d="M548 166 Q506 170 505 215 Q508 258 548 268 Z"/>
<path d="M528 170 Q516 215 534 262" style="stroke:#888"/>
<path class="lnw" d="M600 150 L572 156 Q535 170 533 225 Q538 280 578 296 L606 301 Z"/>
<ellipse class="lnw" style="stroke-width:1.1" cx="594" cy="226" rx="54" ry="76" transform="rotate(8 594 226)"/>
<path d="M572 156 Q556 200 562 250 L578 296" style="stroke:#999"/>
</g>
<!-- plug 7 -->
<g class="ln">
<path class="lnw" d="M482 420 Q438 428 436 480 Q440 532 486 548 Z"/>
<path d="M460 428 Q448 480 470 540" style="stroke:#888"/>
<path class="lnw" d="M545 402 L512 410 Q474 428 472 488 Q478 548 520 570 L550 578 Z"/>
<ellipse class="lnw" style="stroke-width:1.1" cx="538" cy="490" rx="60" ry="88" transform="rotate(8 538 490)"/>
<path d="M512 410 Q496 455 502 515 L520 570" style="stroke:#999"/>
</g>
</g>
<g transform="translate(0 490) scale(0.125)">
<path class="ld" d="M200 300 L200 392"/>
<path class="ax" d="M225 215 L440 40"/>
<g class="ln">
<path class="lnw" d="M185 212 Q215 215 220 245 Q220 275 195 295 L170 300 Z"/>
<path d="M200 218 Q210 250 190 292" style="stroke:#777"/>
<ellipse class="lnw" cx="150" cy="265" rx="46" ry="62" transform="rotate(-25 150 265)"/>
<ellipse cx="146" cy="268" rx="38" ry="54" transform="rotate(-25 146 268)" style="stroke:#888"/>
</g>
</g>

<!-- 80_kits.svg -->
<g>
<!-- kit 100 -->
<g class="ln"><ellipse cx="274.0" cy="490.0" rx="7.2" ry="4.0" class="lnw" style="stroke-width:1.8;stroke:#555"/><ellipse cx="274.0" cy="490.2" rx="5.300000000000001" ry="2.5" style="stroke-width:0.9;stroke:#444"/></g><g class="ln" transform="translate(274.2 531.8) scale(0.125)"><path d="M-50 18 L-50 38 Q-30 60 0 60 Q30 60 50 38 L50 18 Z" style="fill:#3a3a3a;stroke:#222;stroke-width:0.7"/><path d="M-46 20 Q-44 -20 -30 -45 Q-15 -62 0 -62 Q16 -62 30 -45 Q44 -20 46 20 Q30 36 0 36 Q-30 36 -46 20Z" style="fill:#8a8a8a;stroke:#222;stroke-width:0.9"/><path d="M-30 -42 Q0 -56 30 -42 L20 -20 Q0 -28 -20 -20Z" style="fill:#b5b5b5;stroke:#444;stroke-width:0.5"/><path d="M-34 -8 L-12 -14 L-12 20 L-36 18Z M12 -14 L34 -8 L36 18 L12 20Z" style="fill:#2e2e2e;stroke:none"/><path d="M-8 -12 h16 v30 h-16z" style="fill:#ddd;stroke:#444;stroke-width:0.5"/><path d="M-50 24 Q0 52 50 24" style="stroke:#ccc;stroke-width:0.6;fill:none"/></g><g class="ln"><ellipse cx="273.8" cy="585.2" rx="7.0" ry="3.9" class="lnw" style="stroke-width:1.8;stroke:#555"/><ellipse cx="273.8" cy="585.4" rx="5.1" ry="2.4" style="stroke-width:0.9;stroke:#444"/></g>
<!-- kit 102 -->
<g class="ln"><ellipse cx="422.6" cy="584.2" rx="8.6" ry="7.0" transform="rotate(45 422.6 584.2)" class="lnw" style="stroke-width:1.4;stroke:#333"/><ellipse cx="422.9" cy="584.5" rx="6.3" ry="4.9" transform="rotate(45 422.9 584.5)" style="stroke-width:1"/><path d="M416.0 580.6 l2.3 1.1 M419.4 589.5 l1.3 -1.9 M426.4 578.6 l-1.3 1.9 M429.4 587.6 l-2.3 -1.1"/></g><g class="ln"><ellipse cx="435.0" cy="573.4" rx="6.7" ry="5.4" transform="rotate(45 435.0 573.4)" class="lnw" style="stroke-width:3.7;stroke:#222"/></g><g class="ln"><ellipse cx="449.7" cy="557.0" rx="10.3" ry="8.2" transform="rotate(45 449.7 557.0)" class="lnw" style="stroke-width:1.4;stroke:#333"/><ellipse cx="449.9" cy="557.1" rx="8.8" ry="6.9" transform="rotate(45 449.9 557.1)" style="stroke:#777"/><ellipse cx="450.0" cy="557.2" rx="6" ry="4.7" transform="rotate(45 450.0 557.2)" style="stroke-width:1.1"/><ellipse cx="450.5" cy="557.4" rx="4.8" ry="3.8" transform="rotate(45 450.5 557.4)" style="stroke:#888;stroke-width:0.6"/></g><g class="ln"><ellipse cx="468.2" cy="540.6" rx="8.6" ry="7.0" transform="rotate(45 468.2 540.6)" class="lnw" style="stroke-width:1.4;stroke:#333"/><ellipse cx="468.5" cy="540.9" rx="6.3" ry="4.9" transform="rotate(45 468.5 540.9)" style="stroke-width:1"/><path d="M461.6 537.0 l2.3 1.1 M465.0 545.9 l1.3 -1.9 M472.0 535.0 l-1.3 1.9 M475.0 544.0 l-2.3 -1.1"/></g><g class="ln"><ellipse cx="481.4" cy="529.6" rx="6.7" ry="5.4" transform="rotate(45 481.4 529.6)" class="lnw" style="stroke-width:3.7;stroke:#222"/></g><ellipse cx="500.8" cy="512.3" rx="9.8" ry="8.0" transform="rotate(45 500.8 512.3)" class="ln" style="stroke-width:2.1;stroke:#1c1c1c"/>
<!-- kit 103 -->
<g class="ln"><ellipse cx="585.5" cy="497.4" rx="7.6" ry="3.8" class="lnw" style="stroke-width:1.8;stroke:#555"/><ellipse cx="585.5" cy="497.6" rx="5.699999999999999" ry="2.3" style="stroke-width:0.9;stroke:#444"/></g><g class="ln"><ellipse cx="585.5" cy="518.1" rx="7.2" ry="3.6" class="lnw" style="stroke-width:1.8;stroke:#555"/><ellipse cx="585.5" cy="518.3" rx="5.300000000000001" ry="2.1" style="stroke-width:0.9;stroke:#444"/></g><ellipse cx="549.8" cy="546.0" rx="4.8" ry="2.4" class="ln" style="stroke-width:1.4;stroke:#444"/><g class="ln"><ellipse cx="622.8" cy="508.0" rx="8.4" ry="15.2" transform="rotate(12 622.8 508.0)" class="lnw"/><ellipse cx="625.2" cy="507.6" rx="8.4" ry="15.2" transform="rotate(12 625.2 507.6)" class="lnw" style="stroke-width:1.1"/><ellipse cx="626.6" cy="507.6" rx="5" ry="9.6" transform="rotate(12 626.6 507.6)" style="stroke-width:1.5;stroke:#333"/><ellipse cx="627.2" cy="508.0" rx="3.3" ry="7.2" transform="rotate(12 627.2 508.0)" class="g2"/><ellipse cx="626.2" cy="508.4" rx="2.6" ry="6.2" transform="rotate(12 626.2 508.4)" class="lnw"/></g><ellipse cx="659.0" cy="516.6" rx="10.8" ry="22.2" transform="rotate(14 659.0 516.6)" class="ln" style="stroke-width:1.8;stroke:#4a4a4a"/><ellipse cx="697.7" cy="506.2" rx="2.7" ry="3.6" transform="rotate(-35 697.7 506.2)" class="ln" style="stroke-width:1.5;stroke:#222"/><ellipse cx="704.3" cy="501.0" rx="2.7" ry="3.6" transform="rotate(-35 704.3 501.0)" class="ln" style="stroke-width:1.5;stroke:#222"/><ellipse cx="588.0" cy="572.7" rx="9.8" ry="8.0" transform="rotate(45 588.0 572.7)" class="ln" style="stroke-width:2.1;stroke:#1c1c1c"/><g class="ln"><ellipse cx="651.5" cy="567.1" rx="9.4" ry="7.4" transform="rotate(45 651.5 567.1)" class="lnw" style="stroke-width:1.8;stroke:#3a3a3a"/><ellipse cx="652.1" cy="567.6" rx="7.0" ry="5.3" transform="rotate(45 652.1 567.6)" style="stroke-width:1.3;stroke:#444"/><ellipse cx="652.4" cy="567.9" rx="5.4" ry="4.0" transform="rotate(45 652.4 567.9)" style="stroke-width:0.7;stroke:#666"/></g><g class="ln"><path d="M685.6 521 L738.6 533.4 L744.6 539.6 L744 579.4 L741.2 582.4 L691 568 L685.2 561.8 Z" style="stroke-width:1.1"/><path d="M687.4 523.2 L738 535.2 L742.8 540.2 L742.3 578.4 L740.6 580.2 L691.8 566.2 L687 561 Z"/><ellipse cx="700.2" cy="551.0" rx="6.6" ry="7.4" transform="rotate(20 700.2 551.0)" style="stroke-width:1.1"/></g>
</g>

<!-- 81_kit101.svg -->
<g transform="translate(-38.5 301.5)"><g transform="translate(350 160) scale(0.16234)">
<!-- kit 101 -->
<!-- small rings -->
<g class="ln" style="stroke-width:1.5;stroke:#222">
<ellipse cx="425" cy="314" rx="16" ry="22" transform="rotate(-35 425 314)"/>
<ellipse cx="388" cy="350" rx="16" ry="22" transform="rotate(-35 388 350)"/>
</g>
<!-- washer -->
<g class="ln">
<ellipse class="lnw" cx="340" cy="390" rx="36" ry="43" transform="rotate(-35 340 390)"/>
<ellipse cx="340" cy="392" rx="13" ry="18" transform="rotate(-35 340 392)"/>
<path d="M330 378 Q345 372 352 385"/>
</g>
<!-- sleeve -->
<g class="ln">
<path class="lnw" d="M172 488 L262 410 Q295 405 310 440 Q312 455 308 462 L222 538 Z"/>
<ellipse class="lnw" style="stroke-width:1.4;stroke:#222" cx="196" cy="510" rx="30" ry="36" transform="rotate(-38 196 510)"/>
<ellipse style="stroke-width:1.3;stroke:#222" cx="198" cy="512" rx="18" ry="22" transform="rotate(-38 198 512)"/>
<path d="M185 505 Q200 498 212 512"/>
</g>
<!-- small washer -->
<g class="ln">
<ellipse class="lnw" style="stroke-width:1.1" cx="135" cy="561" rx="21" ry="26" transform="rotate(-38 135 561)"/>
<ellipse cx="135" cy="562" rx="10" ry="13" transform="rotate(-38 135 562)"/>
</g>
<!-- nut -->
<g class="ln" transform="translate(88 608) scale(1.35) translate(-86 -604)">
<path class="g1" d="M62 592 L80 580 L104 588 L110 612 L92 628 L66 618 Z"/>
<path d="M72 598 L92 606 L104 592 M92 606 L92 626"/>
<ellipse cx="84" cy="606" rx="6" ry="8" transform="rotate(-35 84 606)" style="stroke:#666"/>
</g>
</g></g>

<g class="lbl"><text transform="translate(551.8 24.7) scale(1.1 1)">34</text><text transform="translate(524.4 39.7) scale(1.1 1)"><tspan style="letter-spacing:-1.5px">1</tspan>03</text><text transform="translate(523.8 89.9) scale(1.1 1)">56</text><text transform="translate(505.9 102.9) scale(1.1 1)">35</text><text transform="translate(544.8 136.4) scale(1.1 1)"><tspan style="letter-spacing:-1.5px">1</tspan>03</text><text transform="translate(478.1 121.2) scale(1.1 1)">2<tspan dx="-2.3" style="letter-spacing:-1.5px">1</tspan></text><text transform="translate(449.9 132.9) scale(1.1 1)">24</text><text transform="translate(404.0 155.4) scale(1.1 1)"><tspan style="letter-spacing:-1.5px">1</tspan>0<tspan dx="-2.3" style="letter-spacing:-1.5px">1</tspan></text><text transform="translate(405.2 171.9) scale(1.1 1)"><tspan style="letter-spacing:-1.5px">1</tspan>03</text><text transform="translate(428.2 167.9) scale(1.1 1)">32</text><text transform="translate(308.4 186.7) scale(1.1 1)">59</text><text transform="translate(309.0 222.2) scale(1.1 1)">58</text><text transform="translate(369.0 209.7) scale(1.1 1)"><tspan style="letter-spacing:-1.5px">1</tspan>0<tspan dx="-2.3" style="letter-spacing:-1.5px">1</tspan></text><text transform="translate(420.9 244.7) scale(1.1 1)"><tspan style="letter-spacing:-1.5px">1</tspan>0<tspan dx="-2.3" style="letter-spacing:-1.5px">1</tspan></text><text transform="translate(422.8 261.7) scale(1.1 1)"><tspan style="letter-spacing:-1.5px">1</tspan>03</text><text transform="translate(400.4 279.7) scale(1.1 1)">36</text><text transform="translate(437.8 293.4) scale(1.1 1)"><tspan style="letter-spacing:-1.5px">1</tspan>8</text><text transform="translate(476.5 252.2) scale(1.1 1)">37</text><text transform="translate(476.5 269.2) scale(1.1 1)">38</text><text transform="translate(476.5 286.2) scale(1.1 1)">39</text><text transform="translate(476.5 303.3) scale(1.1 1)">40</text><text transform="translate(511.0 312.9) scale(1.1 1)"><tspan style="letter-spacing:-1.5px">1</tspan>03</text><text transform="translate(545.6 317.9) scale(1.1 1)">42</text><text transform="translate(575.0 420.4) scale(1.1 1)"><tspan style="letter-spacing:-1.5px">1</tspan>03</text><text transform="translate(394.2 368.4) scale(1.1 1)">43</text><text transform="translate(136.5 199.9) scale(1.1 1)">54</text><text transform="translate(166.3 213.7) scale(1.1 1)"><tspan style="letter-spacing:-1.5px">1</tspan>03</text><text transform="translate(188.6 222.4) scale(1.1 1)">23</text><text transform="translate(206.7 226.6) scale(1.1 1)">56</text><text transform="translate(217.0 243.7) scale(1.1 1)">57</text><text transform="translate(238.7 247.1) scale(1.1 1)"><tspan style="letter-spacing:-1.5px">1</tspan>8</text><text transform="translate(230.9 317.9) scale(1.1 1)"><tspan style="letter-spacing:-1.5px">1</tspan>02</text><text transform="translate(230.9 334.9) scale(1.1 1)"><tspan style="letter-spacing:-1.5px">1</tspan>03</text><text transform="translate(210.0 346.7) scale(1.1 1)">49</text><text transform="translate(184.0 364.9) scale(1.1 1)"><tspan style="letter-spacing:-1.5px">1</tspan>02</text><text transform="translate(168.7 381.0) scale(1.1 1)">5<tspan dx="-2.3" style="letter-spacing:-1.5px">1</tspan></text><text transform="translate(253.8 401.7) scale(1.1 1)"><tspan style="letter-spacing:-1.5px">1</tspan>03</text><text transform="translate(129.0 409.4) scale(1.1 1)"><tspan style="letter-spacing:-1.5px">1</tspan>02</text><text transform="translate(347.8 381.0) scale(1.1 1)"><tspan style="letter-spacing:-1.5px">1</tspan>03</text><text transform="translate(345.8 402.5) scale(1.1 1)">45</text><text transform="translate(107.0 340.9) scale(1.1 1)">66</text><text transform="translate(42.8 372.9) scale(1.1 1)"><tspan style="letter-spacing:-1.5px">1</tspan>5</text><text transform="translate(32.5 407.9) scale(1.1 1)" textLength="23.3" lengthAdjust="spacingAndGlyphs"><tspan style="letter-spacing:-1.5px">1</tspan>00</text><text transform="translate(33.0 424.9) scale(1.1 1)"><tspan style="letter-spacing:-1.5px">1</tspan>03</text><text transform="translate(35.0 446.7) scale(1.1 1)" textLength="23.3" lengthAdjust="spacingAndGlyphs"><tspan style="letter-spacing:-1.5px">1</tspan>00</text><text transform="translate(156.5 473.7) scale(1.1 1)">3</text><text transform="translate(194.8 481.7) scale(1.1 1)">6</text><text transform="translate(24.8 550.4) scale(1.1 1)">8</text><text transform="translate(122.0 563.7) scale(1.1 1)"><tspan style="letter-spacing:-1.5px">1</tspan></text><text transform="translate(154.4 559.9) scale(1.1 1)">4</text><text transform="translate(187.8 570.4) scale(1.1 1)">7</text><text transform="translate(274.2 454.2) scale(1.1 1)" textLength="23.3" lengthAdjust="spacingAndGlyphs"><tspan style="letter-spacing:-1.5px">1</tspan>00</text><text transform="translate(353.9 454.2) scale(1.1 1)"><tspan style="letter-spacing:-1.5px">1</tspan>0<tspan dx="-2.3" style="letter-spacing:-1.5px">1</tspan></text><text transform="translate(465.5 454.2) scale(1.1 1)"><tspan style="letter-spacing:-1.5px">1</tspan>02</text><text transform="translate(643.6 454.2) scale(1.1 1)"><tspan style="letter-spacing:-1.5px">1</tspan>03</text></g>
</svg>
</body></html>
